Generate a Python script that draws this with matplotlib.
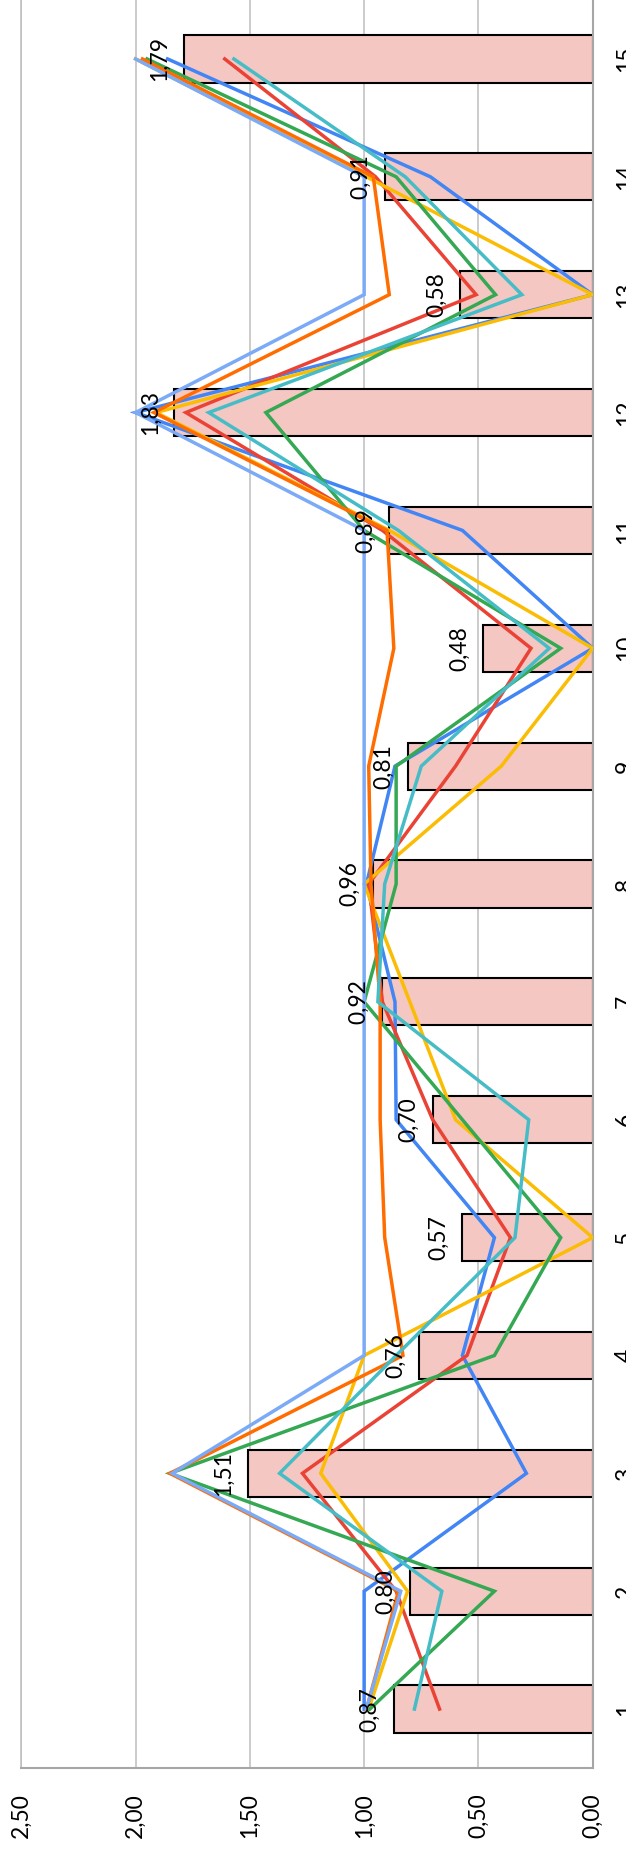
import numpy as np
import matplotlib
matplotlib.use("Agg")
import matplotlib.pyplot as plt

plt.rcParams["font.family"] = ["Lato", "DejaVu Sans"]

# ---- data ----
cats = list(range(1, 16))
bar_vals = [0.87, 0.80, 1.51, 0.76, 0.57, 0.70, 0.92, 0.96, 0.81, 0.48, 0.89, 1.83, 0.58, 0.91, 1.79]

s_blue      = [1.00, 1.00, 0.29, 0.57, 0.43, 0.86, 0.865, 0.99, 0.865, 0.00, 0.57, 2.00, 0.00, 0.71, 1.86]
s_red       = [0.67, 0.86, 1.27, 0.55, 0.36, 0.70, 0.92, 0.98, 0.60, 0.27, 0.92, 1.78, 0.51, 0.95, 1.61]
s_yellow    = [0.98, 0.81, 1.19, 1.00, 0.00, 0.60, 0.80, 1.00, 0.40, 0.00, 0.89, 1.91, 0.00, 0.99, 2.00]
s_green     = [0.975, 0.43, 1.85, 0.43, 0.14, 0.57, 1.00, 0.86, 0.86, 0.14, 1.00, 1.43, 0.425, 0.86, 1.95]
s_orange    = [0.99, 0.85, 1.85, 0.83, 0.91, 0.93, 0.93, 0.97, 0.98, 0.87, 0.90, 1.92, 0.89, 0.96, 1.97]
s_teal      = [0.78, 0.66, 1.37, 0.86, 0.34, 0.28, 0.94, 0.91, 0.75, 0.19, 0.85, 1.68, 0.31, 0.82, 1.57]
s_lightblue = [0.99, 0.84, 1.84, 1.00, 1.00, 1.00, 1.00, 1.00, 1.00, 1.00, 1.00, 2.00, 1.00, 1.00, 2.00]

series = [
    (s_blue, "#4285F4"),
    (s_red, "#EA4335"),
    (s_yellow, "#FBBC04"),
    (s_green, "#34A853"),
    (s_orange, "#FF6D01"),
    (s_teal, "#46BDC6"),
    (s_lightblue, "#7BAAF7"),
]

value_ticks = [0.0, 0.5, 1.0, 1.5, 2.0, 2.5]
FS = 16.4

def fmt(v):
    return f"{v:.2f}".replace(".", ",")

# chart is drawn rotated (portrait): categories run up the right side
W, H = 626, 1854
fig = plt.figure(figsize=(W / 100, H / 100), dpi=100)
x0, x1, ybot = 21.3, 592.7, 1768
ax = fig.add_axes([x0 / W, 1 - ybot / H, (x1 - x0) / W, ybot / H])

ax.barh(cats, bar_vals, height=0.4, color="#F4C7C3", edgecolor="black", linewidth=1.5, zorder=2)
for vals, col in series:
    ax.plot(vals, cats, color=col, lw=2.5, zorder=3, solid_joinstyle="miter")

for c, v in zip(cats, bar_vals):
    ax.annotate(fmt(v), xy=(v, c), xytext=(-9.5, 0), textcoords="offset points",
                rotation=90, ha="right", va="center", fontsize=FS, zorder=4)

ax.set_xlim(2.5, 0)
ax.set_ylim(0.5, 15.5)

ax.set_xticks(value_ticks)
ax.set_xticklabels([fmt(v) for v in value_ticks], rotation=90, fontsize=FS)
ax.xaxis.grid(True, color="#bdbdbd", lw=1.1, zorder=0)
ax.set_axisbelow(True)

ax.yaxis.tick_right()
ax.set_yticks(cats)
ax.set_yticklabels([str(c) for c in cats], rotation=90, va="center", fontsize=FS)

ax.tick_params(axis="x", length=0, pad=18)
ax.tick_params(axis="y", length=0, pad=16)

ax.spines["top"].set_visible(False)
ax.spines["left"].set_color("#bdbdbd")
ax.spines["left"].set_linewidth(1.1)
ax.spines["bottom"].set_color("#a6a6a6")
ax.spines["bottom"].set_linewidth(1.5)
ax.spines["right"].set_color("#a6a6a6")
ax.spines["right"].set_linewidth(1.5)

fig.savefig("out.png", dpi=100)
